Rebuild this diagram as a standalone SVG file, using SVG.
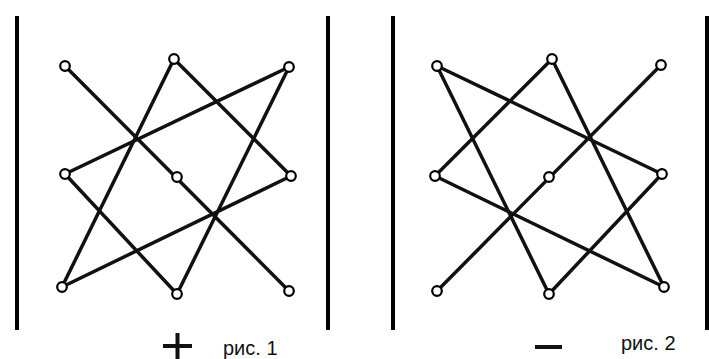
<svg xmlns="http://www.w3.org/2000/svg" width="709" height="359" viewBox="0 0 709 359">
<style>
.bar{stroke:#000;stroke-width:4}
.edge{stroke:#111;stroke-width:3.5;stroke-linecap:round}
.node{fill:#fff;stroke:#000;stroke-width:2.2}
.lbl{font-family:"Liberation Sans",Arial,sans-serif;font-size:20px;fill:#111}
.sign{stroke:#111;stroke-width:4}
</style>
<rect width="709" height="359" fill="#fff"/>
<g id="bars">
<line class="bar" x1="17" y1="16" x2="17" y2="330"/>
<line class="bar" x1="328" y1="16" x2="328" y2="330"/>
<line class="bar" x1="393" y1="16" x2="393" y2="330"/>
<line class="bar" x1="707" y1="16" x2="707" y2="330"/>
</g>
<g id="connectors">
<!-- fig 1 -->
<line class="edge" x1="65" y1="66" x2="289" y2="291"/>
<line class="edge" x1="174" y1="59" x2="291" y2="176"/>
<line class="edge" x1="174" y1="59" x2="62" y2="287"/>
<line class="edge" x1="289" y1="67" x2="65" y2="174"/>
<line class="edge" x1="289" y1="67" x2="177" y2="294"/>
<line class="edge" x1="65" y1="174" x2="177" y2="294"/>
<line class="edge" x1="62" y1="287" x2="291" y2="176"/>
<!-- fig 2 -->
<line class="edge" x1="437" y1="66" x2="662" y2="174"/>
<line class="edge" x1="437" y1="66" x2="549" y2="294"/>
<line class="edge" x1="552" y1="59" x2="435" y2="176"/>
<line class="edge" x1="552" y1="59" x2="664" y2="287"/>
<line class="edge" x1="661" y1="65" x2="437" y2="291"/>
<line class="edge" x1="435" y1="176" x2="664" y2="287"/>
<line class="edge" x1="549" y1="294" x2="662" y2="174"/>
</g>
<g id="fig1-nodes">
<circle id="f1-tl" class="node" cx="65" cy="66" r="4.8"/>
<circle id="f1-tm" class="node" cx="174" cy="59" r="4.8"/>
<circle id="f1-tr" class="node" cx="289" cy="67" r="4.8"/>
<circle id="f1-ml" class="node" cx="65" cy="174" r="4.8"/>
<circle id="f1-mm" class="node" cx="177" cy="177" r="4.8"/>
<circle id="f1-mr" class="node" cx="291" cy="176" r="4.8"/>
<circle id="f1-bl" class="node" cx="62" cy="287" r="4.8"/>
<circle id="f1-bm" class="node" cx="177" cy="294" r="4.8"/>
<circle id="f1-br" class="node" cx="289" cy="291" r="4.8"/>
</g>
<g id="fig2-nodes">
<circle id="f2-tl" class="node" cx="437" cy="66" r="4.8"/>
<circle id="f2-tm" class="node" cx="552" cy="59" r="4.8"/>
<circle id="f2-tr" class="node" cx="661" cy="65" r="4.8"/>
<circle id="f2-ml" class="node" cx="435" cy="176" r="4.8"/>
<circle id="f2-mm" class="node" cx="549" cy="177" r="4.8"/>
<circle id="f2-mr" class="node" cx="662" cy="174" r="4.8"/>
<circle id="f2-bl" class="node" cx="437" cy="291" r="4.8"/>
<circle id="f2-bm" class="node" cx="549" cy="294" r="4.8"/>
<circle id="f2-br" class="node" cx="664" cy="287" r="4.8"/>
</g>
<g id="labels">
<line class="sign" x1="163" y1="346" x2="192" y2="346"/>
<line class="sign" x1="177.5" y1="333" x2="177.5" y2="359"/>
<text class="lbl" x="223" y="355">рис. 1</text>
<line class="sign" x1="535" y1="347" x2="562" y2="347"/>
<text class="lbl" x="621" y="350">рис. 2</text>
</g>
</svg>
